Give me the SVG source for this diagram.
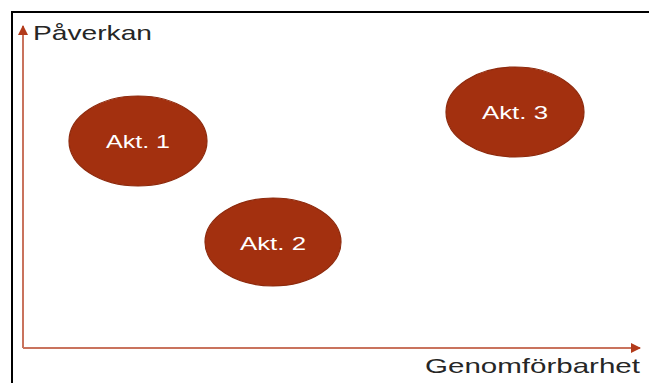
<svg xmlns="http://www.w3.org/2000/svg" width="649" height="383" viewBox="0 0 649 383">
  <style>
    .frame { fill: none; stroke: #000; stroke-width: 2; }
    .axis { fill: none; stroke: #C9735D; stroke-width: 2; }
    .node ellipse { fill: #A3300F; stroke: #8E2A0D; stroke-width: 1.2; }
    .node text { fill: #FFFFFF; font-family: "Liberation Sans", "DejaVu Sans", sans-serif; font-size: 19px; text-anchor: middle; dominant-baseline: central; }
    .axis-label { fill: #262626; font-family: "Liberation Sans", "DejaVu Sans", sans-serif; font-size: 21px; }
  </style>
  <defs>
    <marker id="arrow" viewBox="0 0 10 10" refX="9" refY="5" markerWidth="5" markerHeight="5" orient="auto" markerUnits="strokeWidth">
      <path d="M0,0 L10,5 L0,10 Z" fill="#B23A1A"/>
    </marker>
  </defs>
  <rect width="649" height="383" fill="#FFFFFF"/>

  <!-- outer frame: top and left edges -->
  <path class="frame" d="M12,383 V12 H649"/>

  <!-- axes -->
  <g id="connectors">
    <path class="axis" d="M23,348 V26" marker-end="url(#arrow)"/>
    <path class="axis" d="M23,348 H640" marker-end="url(#arrow)"/>
  </g>

  <text class="axis-label" x="33" y="40" textLength="119" lengthAdjust="spacingAndGlyphs">Påverkan</text>
  <text class="axis-label" x="425" y="373" textLength="215" lengthAdjust="spacingAndGlyphs">Genomförbarhet</text>

  <g id="akt1" class="node">
    <ellipse cx="138" cy="141" rx="69" ry="45"/>
    <text x="138" y="141" textLength="64" lengthAdjust="spacingAndGlyphs">Akt. 1</text>
  </g>
  <g id="akt2" class="node">
    <ellipse cx="273" cy="242" rx="68" ry="44"/>
    <text x="273" y="243" textLength="66" lengthAdjust="spacingAndGlyphs">Akt. 2</text>
  </g>
  <g id="akt3" class="node">
    <ellipse cx="515" cy="112" rx="69" ry="45"/>
    <text x="515" y="112" textLength="66" lengthAdjust="spacingAndGlyphs">Akt. 3</text>
  </g>
</svg>
